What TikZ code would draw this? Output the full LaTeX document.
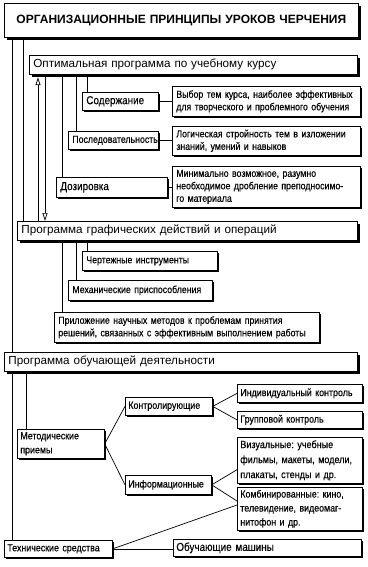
\documentclass[tikz,border=0pt]{standalone}
\usepackage{fontspec}
\setmainfont{Liberation Sans}
\newfontfamily\narrowfont[FakeStretch=0.86,FakeBold=0.3]{Liberation Sans}
\usetikzlibrary{positioning,arrows.meta,shadows,calc}
\frenchspacing

\begin{document}
\begin{tikzpicture}[
  x=1pt, y=-1pt,
  frame/.style={draw, line width=0.7pt, fill=white, anchor=north west, inner xsep=4pt, inner ysep=0pt, align=left},
  headbox/.style={frame, font=\fontsize{11.7}{13}\selectfont, drop shadow={shadow xshift=2.5pt, shadow yshift=-2.5pt, opacity=1, fill=black}},
  smallbox/.style={frame, font=\narrowfont\fontsize{10.2}{12.5}\selectfont, drop shadow={shadow xshift=1.5pt, shadow yshift=-1.5pt, opacity=1, fill=black}},
  lowbox/.style={smallbox, inner xsep=3pt, font=\narrowfont\fontsize{10.3}{14}\selectfont},
  link/.style={line width=0.7pt},
  arr/.style={link, -{Triangle[open, length=8pt, width=5pt]}}
]
  \useasboundingbox[fill=white] (0,0) rectangle (367,567);

  \node[headbox, text width=346pt, minimum height=34pt, align=center, font=\bfseries\fontsize{12}{14}\selectfont, drop shadow={shadow xshift=3pt, shadow yshift=-3pt, opacity=1, fill=black}] (title) at (4,3) {ОРГАНИЗАЦИОННЫЕ ПРИНЦИПЫ УРОКОВ ЧЕРЧЕНИЯ};

  \node[headbox, text width=320pt, minimum height=19pt] (optim) at (29,55) {Оптимальная программа по учебному курсу};
  \node[smallbox, text width=68pt, minimum height=18pt, font=\narrowfont\fontsize{11.5}{13}\selectfont] (content) at (82,92) {Содержание};
  \node[smallbox, text width=180pt, minimum height=30pt] (contentd) at (172,86) {Выбор тем курса, наиболее эффективных\\для творческого и проблемного обучения};
  \node[smallbox, text width=82pt, minimum height=18pt] (order) at (68,131) {Последовательность};
  \node[smallbox, text width=180pt, minimum height=29pt] (orderd) at (172,126) {Логическая стройность тем в изложении\\знаний, умений и навыков};
  \node[smallbox, text width=103pt, minimum height=20pt, font=\narrowfont\fontsize{11.5}{13}\selectfont] (dose) at (56,177) {Дозировка};
  \node[smallbox, text width=180pt, minimum height=41pt] (dosed) at (172,166) {Минимально возможное, разумно\\необходимое дробление преподносимо-\\го материала};

  \node[headbox, text width=332pt, minimum height=19pt] (graph) at (17,221) {Программа графических действий и операций};
  \node[smallbox, text width=127pt, minimum height=19pt] (tools) at (82,251) {Чертежные инструменты};
  \node[smallbox, text width=136pt, minimum height=20pt] (mech) at (68,280) {Механические приспособления};
  \node[smallbox, text width=257pt, minimum height=30pt] (science) at (54,312) {Приложение научных методов к проблемам принятия\\решений, связанных с эффективным выполнением работы};

  \node[headbox, text width=345pt, minimum height=19pt] (teach) at (4,352) {Программа обучающей деятельности};
  \node[lowbox, text width=81pt, minimum height=29pt] (methods) at (17,429) {Методические\\приемы};
  \node[lowbox, text width=81pt, minimum height=18pt] (control) at (125,397) {Контролирующие};
  \node[lowbox, text width=80pt, minimum height=19pt] (inform) at (125,475) {Информационные};
  \node[lowbox, text width=119pt, minimum height=18pt] (single) at (237,384) {Индивидуальный контроль};
  \node[lowbox, text width=119pt, minimum height=17pt] (group) at (237,411) {Групповой контроль};
  \node[lowbox, text width=119pt, minimum height=46pt, font=\narrowfont\fontsize{10.5}{15}\selectfont] (visual) at (237,437) {Визуальные: учебные\\фильмы, макеты, модели,\\плакаты, стенды и др.};
  \node[lowbox, text width=119pt, minimum height=43pt] (mixed) at (237,487) {Комбинированные: кино,\\телевидение, видеомаг-\\нитофон и др.};
  \node[lowbox, text width=102pt, minimum height=17pt] (tech) at (4,540) {Технические средства};
  \node[lowbox, text width=182pt, minimum height=17pt, font=\narrowfont\fontsize{11.5}{14}\selectfont] (machine) at (173,539) {Обучающие машины};

  \draw[link] (title.south -| 12,0) -- (teach.north -| 12,0);
  \draw[link] (title.south -| 23,0) -- (graph.north -| 23,0);
  \draw[arr, shorten >=2.5pt] (graph.north -| 38,0) -- (optim.south -| 38,0);
  \draw[arr, shorten <=2.5pt] (optim.south -| 45,0) -- (graph.north -| 45,0);
  \draw[link] (optim.south -| 62,0) -- (dose.north -| 62,0);
  \draw[link] (optim.south -| 76,0) -- (order.north -| 76,0);
  \draw[link] (optim.south -| 87,0) -- (content.north -| 87,0);
  \draw[link] (content.east) -- (content.east -| contentd.west);
  \draw[link] (order.east) -- (order.east -| orderd.west);
  \draw[link] (dose.east) -- (dose.east -| dosed.west);

  \draw[link] (graph.south -| 62,0) -- (science.north -| 62,0);
  \draw[link] (graph.south -| 76,0) -- (mech.north -| 76,0);
  \draw[link] (graph.south -| 87,0) -- (tools.north -| 87,0);

  \draw[link] (teach.south -| 12,0) -- (tech.north -| 12,0);
  \draw[link] (teach.south -| 26,0) -- (methods.north -| 26,0);
  \draw[link] (control.west) -- (methods.east) -- (inform.west);
  \draw[link] (single.west) -- (control.east) -- (group.west);
  \draw[link] ($(visual.south west)+(0,-14)$) -- (inform.east) -- ($(mixed.north west)+(0,14)$);
  \draw[link] (tech.east) -- ($(mixed.north west)+(0,18)$);
  \draw[link] (tech.east) -- (tech.east -| machine.west);
\end{tikzpicture}
\end{document}
